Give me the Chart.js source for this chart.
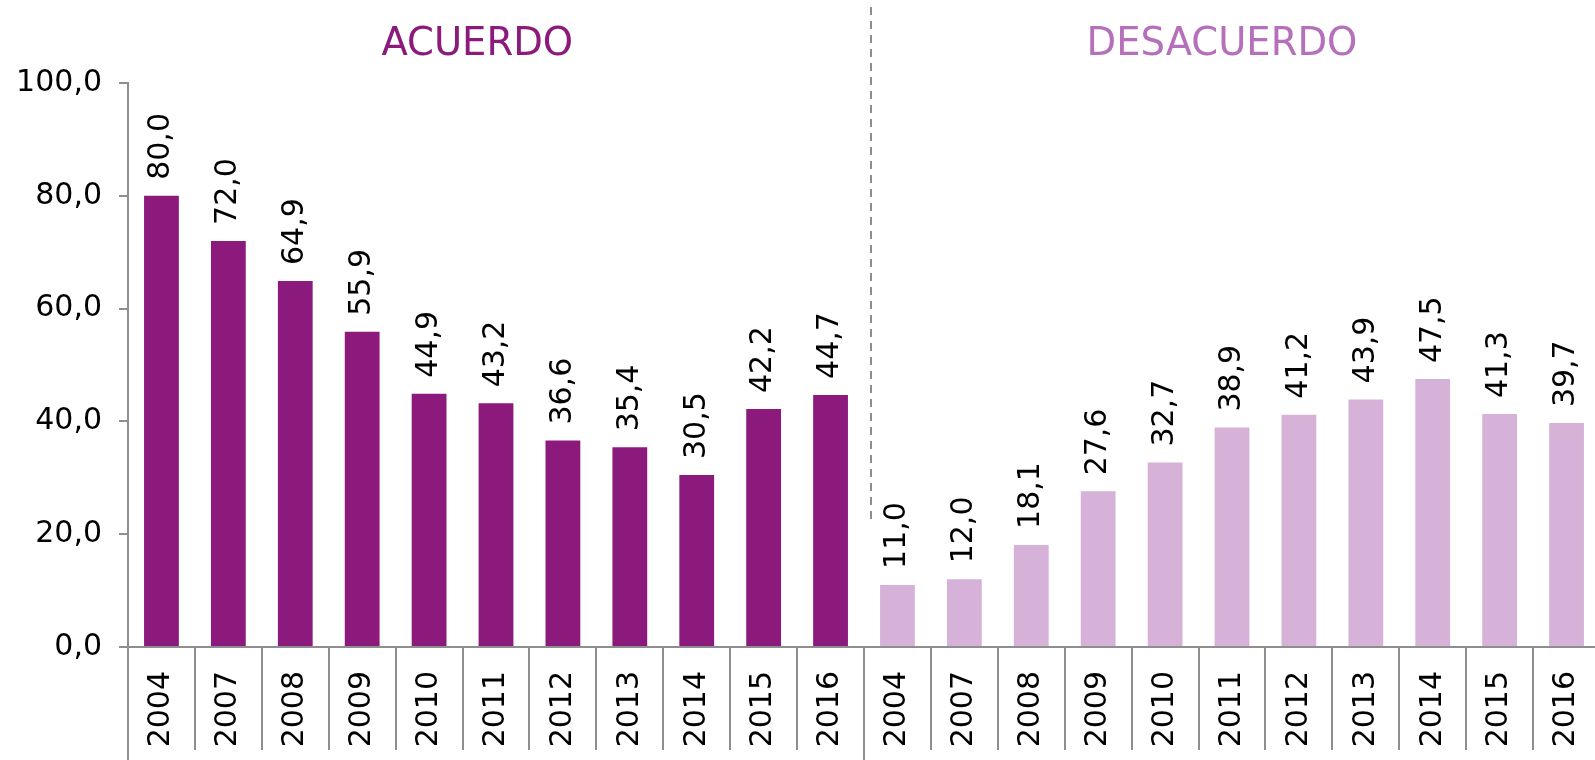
<!DOCTYPE html>
<html>
<head>
<meta charset="utf-8">
<script src="https://cdn.jsdelivr.net/npm/chart.js@4.4.1/dist/chart.umd.min.js"></script>
<style>
  html, body { margin: 0; padding: 0; background: #ffffff; overflow: hidden; }
  #wrap { position: relative; width: 1600px; height: 760px; }
</style>
</head>
<body>
<div id="wrap"><canvas id="c"></canvas></div>
<script>
// ---- data ----
const years = ["2004", "2007", "2008", "2009", "2010", "2011", "2012", "2013", "2014", "2015", "2016"];
const acuerdo = [80.0, 72.0, 64.9, 55.9, 44.9, 43.2, 36.6, 35.4, 30.5, 42.2, 44.7];
const desacuerdo = [11.0, 12.0, 18.1, 27.6, 32.7, 38.9, 41.2, 43.9, 47.5, 41.3, 39.7];
const groupTitles = ["ACUERDO", "DESACUERDO"];
const yTicks = [0, 20, 40, 60, 80, 100];

// ---- styles ----
const FONT = "'DejaVu Sans', sans-serif";
const DARK = "#8b1a7c";
const LIGHT = "#d6b2d9";
const TITLE2 = "#b56fbb";
const AXIS = "#8e8e8e";

const labels = years.concat(years);
const n = years.length;
const acData = acuerdo.concat(new Array(n).fill(null));
const deData = new Array(n).fill(null).concat(desacuerdo);
const fmt = v => v.toFixed(1).replace('.', ',');

const decor = {
  id: 'decor',
  afterDatasetsDraw(chart) {
    const ctx = chart.ctx;
    const xs = chart.scales.x;
    const area = chart.chartArea;
    const half = (xs.getPixelForValue(1) - xs.getPixelForValue(0)) / 2;
    // value labels
    ctx.save();
    ctx.font = "30px " + FONT;
    ctx.fillStyle = "#000";
    ctx.textAlign = 'left';
    ctx.textBaseline = 'middle';
    chart.data.datasets.forEach((ds, di) => {
      const meta = chart.getDatasetMeta(di);
      meta.data.forEach((bar, i) => {
        const v = ds.data[i];
        if (v === null || v === undefined) return;
        ctx.save();
        ctx.translate(bar.x, bar.y - 16);
        ctx.rotate(-Math.PI / 2);
        ctx.fillText(fmt(v), 0, 0);
        ctx.restore();
      });
    });
    ctx.restore();
    // category separators below axis
    ctx.save();
    ctx.strokeStyle = AXIS;
    ctx.lineWidth = 2;
    for (let i = 0; i <= labels.length; i++) {
      const x = Math.round(xs.getPixelForValue(0) - half + i * 2 * half);
      const groupEdge = (i === 0 || i === n);
      ctx.beginPath();
      ctx.moveTo(x, area.bottom);
      ctx.lineTo(x, groupEdge ? 760 : 750);
      ctx.stroke();
    }
    // dashed divider
    const xd = xs.getPixelForValue(n) - half + 7;
    ctx.setLineDash([8, 6]);
    ctx.beginPath();
    ctx.moveTo(xd, 7);
    ctx.lineTo(xd, 520);
    ctx.stroke();
    ctx.restore();
    // group titles
    ctx.save();
    ctx.font = "38.5px " + FONT;
    ctx.textAlign = 'center';
    ctx.textBaseline = 'middle';
    ctx.fillStyle = DARK;
    ctx.fillText(groupTitles[0], xs.getPixelForValue(4.72), 45);
    ctx.fillStyle = TITLE2;
    ctx.fillText(groupTitles[1], xs.getPixelForValue(15.85), 45);
    ctx.restore();
  }
};

new Chart(document.getElementById('c'), {
  type: 'bar',
  data: {
    labels: labels,
    datasets: [
      { label: groupTitles[0], data: acData, backgroundColor: DARK, barPercentage: 0.52, categoryPercentage: 1.0 },
      { label: groupTitles[1], data: deData, backgroundColor: LIGHT, barPercentage: 0.52, categoryPercentage: 1.0 }
    ]
  },
  options: {
    responsive: true,
    maintainAspectRatio: false,
    animation: false,
    devicePixelRatio: 1,
    layout: { padding: { top: 83, right: 0, bottom: 0, left: 0 } },
    plugins: { legend: { display: false }, tooltip: { enabled: false } },
    scales: {
      x: {
        stacked: true,
        afterFit(s) { s.height = 113; s.paddingRight = 0; s.paddingLeft = 0; },
        grid: { display: false },
        border: { display: true, color: AXIS, width: 2 },
        ticks: {
          autoSkip: false, minRotation: 90, maxRotation: 90,
          padding: 16, color: "#000",
          font: { family: FONT, size: 30 }
        }
      },
      y: {
        stacked: true,
        min: 0, max: 100,
        afterFit(s) { s.width = 128; s.paddingTop = 0; s.paddingBottom = 0; },
        afterBuildTicks(s) { s.ticks = yTicks.map(v => ({ value: v })); },
        grid: { display: true, drawOnChartArea: false, drawTicks: true, tickLength: 9, color: AXIS, lineWidth: 2 },
        border: { display: true, color: AXIS, width: 2 },
        ticks: {
          padding: 17, color: "#000",
          font: { family: FONT, size: 30 },
          callback: v => fmt(v)
        }
      }
    }
  },
  plugins: [decor]
});
</script>
</body>
</html>
